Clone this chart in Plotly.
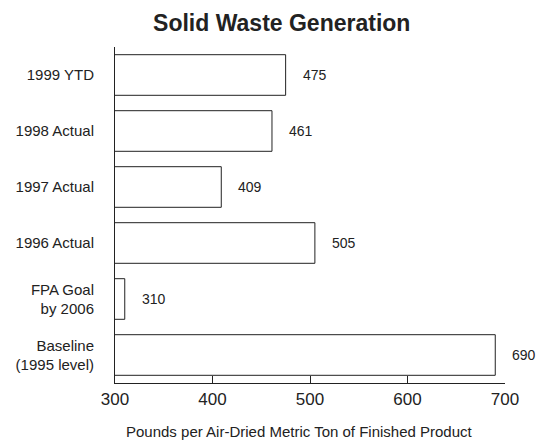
import plotly.graph_objects as go

categories = ["Baseline<br>(1995 level)", "FPA Goal<br>by 2006", "1996 Actual", "1997 Actual", "1998 Actual", "1999 YTD"]
values = [690, 310, 505, 409, 461, 475]
x_ticks = [300, 400, 500, 600, 700]

FONT = "Liberation Sans, Arial, sans-serif"
INK = "#222"

fig = go.Figure()
fig.add_trace(go.Bar(
    y=categories, x=values, orientation="h",
    marker=dict(color="white", line=dict(color=INK, width=1)),
    width=0.725, cliponaxis=False, hoverinfo="skip",
))

for c, v in zip(categories, values):
    fig.add_annotation(x=v, y=c, text=str(v), showarrow=False, xanchor="left",
                       yanchor="middle", xshift=15, font=dict(size=14, color=INK, family=FONT))

fig.add_annotation(x=0.474, y=0, xref="paper", yref="paper",
                   text="Pounds per Air-Dried Metric Ton of Finished Product",
                   showarrow=False, xanchor="center", yanchor="middle", yshift=-48,
                   font=dict(size=15, color=INK, family=FONT))

fig.update_layout(
    width=546, height=440,
    margin=dict(l=115, r=41, t=47, b=57, autoexpand=False),
    paper_bgcolor="white", plot_bgcolor="white",
    showlegend=False,
    font=dict(family=FONT, color=INK),
    title=dict(text="<b>Solid Waste Generation</b>", x=0.516, xanchor="center", xref="container",
               y=0.948, yanchor="middle", yref="container", automargin=False,
               font=dict(size=23, color=INK, family=FONT)),
    xaxis=dict(range=[300, 700], tickvals=x_ticks, showgrid=False, zeroline=False,
               showline=True, linecolor=INK, linewidth=1, ticks="inside", ticklen=7,
               tickcolor=INK, automargin=False, ticklabelstandoff=1,
               tickfont=dict(size=17, color=INK, family=FONT)),
    yaxis=dict(type="category", categoryorder="array", categoryarray=categories,
               range=[-0.5, 5.5], showgrid=False, zeroline=False, showline=True,
               linecolor=INK, linewidth=1, ticks="", ticklabelstandoff=17, automargin=False,
               tickfont=dict(size=15, color=INK, family=FONT)),
)

fig.write_html("out.html", config={"displayModeBar": False},
               post_script="document.body.style.margin='0';document.body.style.padding='0';document.body.style.overflow='hidden';")
